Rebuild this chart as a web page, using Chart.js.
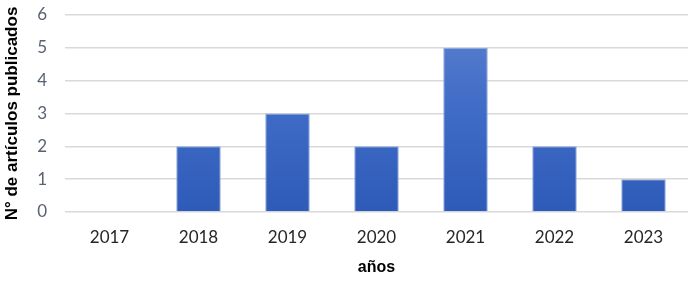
<!DOCTYPE html>
<html><head><meta charset="utf-8">
<script src="https://cdn.jsdelivr.net/npm/chart.js@4"></script>
<style>html,body{margin:0;padding:0;background:#fff}#wrap{width:700px;height:283px}</style>
</head><body><div id="wrap"><canvas id="c"></canvas></div>
<script>
const categories = ["2017","2018","2019","2020","2021","2022","2023"];
const values = [0,2,3,2,5,2,1];
const yTicks = [0,1,2,3,4,5,6];

function grad(ctx){
  const chart = ctx.chart; const a = chart.chartArea;
  if(!a) return '#4472c4';
  const el = ctx.element;
  const top = el && el.y !== undefined ? el.y : a.top;
  const bot = el && el.base !== undefined ? el.base : a.bottom;
  if (!isFinite(top) || !isFinite(bot) || top===bot) return '#4472c4';
  const g = chart.ctx.createLinearGradient(0, top, 0, bot);
  g.addColorStop(0, '#5b80cf');
  g.addColorStop(0.5, '#3e6bc6');
  g.addColorStop(1, '#2f5bb8');
  return g;
}
new Chart(document.getElementById('c'), {
  type: 'bar',
  data: { labels: categories, datasets: [{ data: values, backgroundColor: grad,
    borderColor: '#8fa8dc', borderWidth: 1, categoryPercentage: 1.0, barPercentage: 0.5 }] },
  options: {
    responsive: true, maintainAspectRatio: false, animation: false,
    layout: { padding: { top: 15, right: 12, bottom: 0, left: 0 } },
    plugins: { legend: { display: false }, tooltip: { enabled: false } },
    scales: {
      x: { grid: { display: false, drawTicks: false }, border: { display: false },
        afterFit: s => { s.height = 71; s.paddingLeft = 0; s.paddingRight = 0; },
        ticks: { color: '#262626', font: { family: 'Lato, sans-serif', size: 17 }, padding: 15 },
        title: { display: true, text: 'años', color: '#000', font: { family: '"Liberation Sans", Arial, sans-serif', size: 16, weight: 'bold' }, padding: { top: 0, bottom: 6 } } },
      y: { min: 0, max: 6, afterBuildTicks: s => { s.ticks = yTicks.map(v => ({ value: v })); },
        afterFit: s => { s.width = 65; s.paddingTop = 0; s.paddingBottom = 0; },
        grid: { color: '#d9d9d9', lineWidth: 1.5, drawTicks: false }, border: { display: false },
        ticks: { color: '#596273', font: { family: 'Lato, sans-serif', size: 17 }, padding: 18 },
        title: { display: true, text: 'N° de artículos publicados', color: '#000', font: { family: '"Liberation Sans", Arial, sans-serif', size: 17, weight: 'bold' }, padding: { top: 2, bottom: 4 } } }
    }
  }
});
</script></body></html>
